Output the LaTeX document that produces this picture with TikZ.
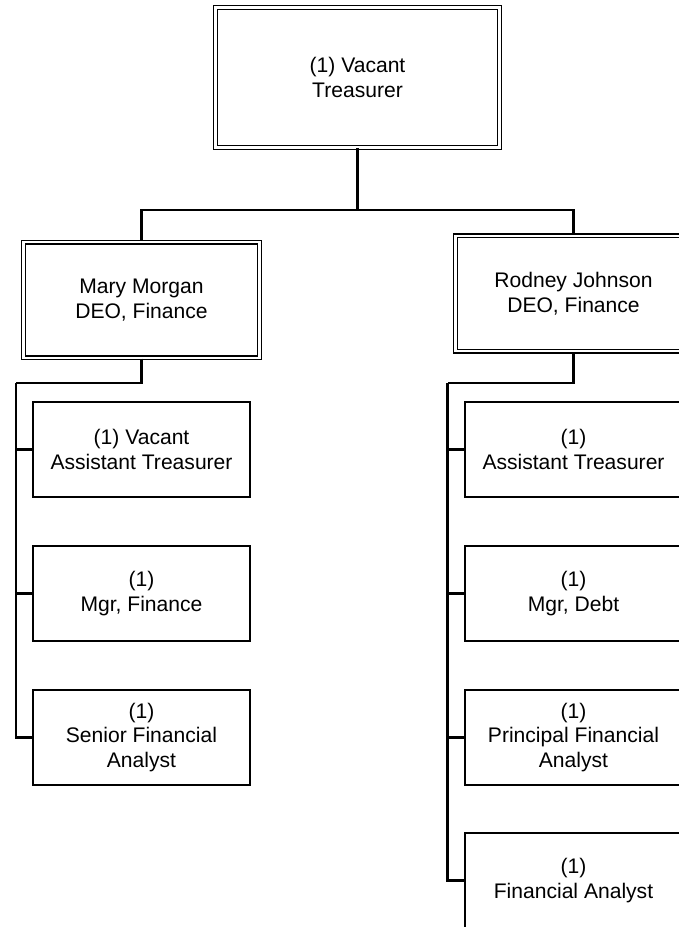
\documentclass[tikz,border=0pt]{standalone}
\usepackage{fontspec}
\setmainfont{Liberation Sans}
\begin{document}
\begin{tikzpicture}[
        x=0.02cm, y=-0.02cm,
        font=\fontsize{12}{14}\selectfont,
        headbox/.style={draw, double, line width=0.9pt, double distance=1.3pt, align=center, inner sep=0pt, minimum width=4.72cm, minimum height=2.31cm},
        topbox/.style={headbox, minimum width=5.68cm, minimum height=2.8cm},
        staffbox/.style={draw, line width=1.3pt, align=center, inner sep=0pt, minimum width=4.34cm, minimum height=1.9cm},
        link/.style={line width=1.3pt}
        ]
        \clip (0,0) rectangle (679,927);
        \node[topbox] (treas) at (357.5,77.5) {(1) Vacant\\Treasurer};
        \node[headbox] (morgan) at (141.5,300) {Mary Morgan\\DEO, Finance};
        \node[headbox] (johnson) at (573.5,293.5) {Rodney Johnson\\DEO, Finance};

        \node[staffbox] (asstL) at (141.5,449.5) {(1) Vacant\\Assistant Treasurer};
        \node[staffbox] (mgrfin) at (141.5,593.5) {(1)\\Mgr, Finance};
        \node[staffbox] (senior) at (141.5,737.5) {(1)\\Senior Financial\\Analyst};

        \node[staffbox] (asstR) at (573.5,449.5) {(1)\\Assistant Treasurer};
        \node[staffbox] (mgrdebt) at (573.5,593.5) {(1)\\Mgr, Debt};
        \node[staffbox] (principal) at (573.5,737.5) {(1)\\Principal Financial\\Analyst};
        \node[staffbox] (analyst) at (573.5,880.5) {(1)\\Financial Analyst};

        \coordinate (bus) at (357.5,210);
        \coordinate (busL) at (16,383);
        \coordinate (busR) at (447.5,383);

        \draw[link] (treas.south) -- (bus);
        \draw[link] (bus) -| (morgan.north);
        \draw[link] (bus) -| (johnson.north);

        \draw[link] (morgan.south) |- (busL);
        \draw[link] (busL) |- (asstL.west);
        \draw[link] (busL) |- (mgrfin.west);
        \draw[link] (busL) |- (senior.west);

        \draw[link] (johnson.south) |- (busR);
        \draw[link] (busR) |- (asstR.west);
        \draw[link] (busR) |- (mgrdebt.west);
        \draw[link] (busR) |- (principal.west);
        \draw[link] (busR) |- (analyst.west);
    \end{tikzpicture}
\end{document}
